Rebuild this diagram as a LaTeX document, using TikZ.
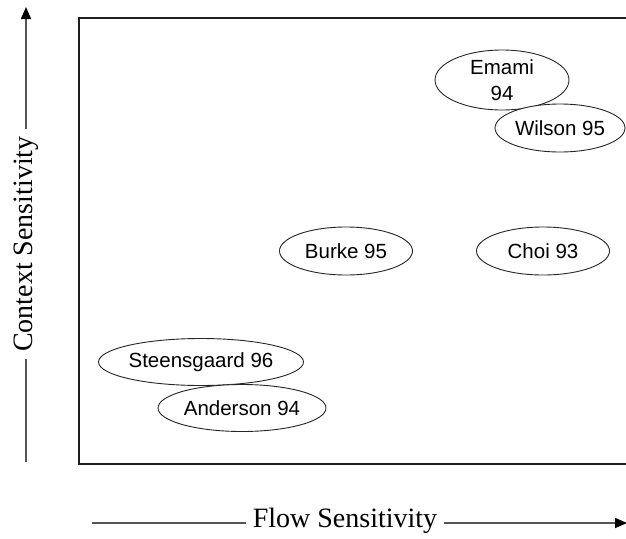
\documentclass[tikz,border=0pt]{standalone}
\usepackage{fontspec}
\setmainfont{Liberation Serif}
\setsansfont{Liberation Sans}
\usetikzlibrary{shapes.geometric,arrows.meta}

\definecolor{axisgray}{HTML}{555555}
\definecolor{framegray}{HTML}{1E1E1E}

\tikzset{
  work/.style={ellipse, draw=black!85, line width=0.9pt, fill=white,
    inner sep=0pt, align=center,
    font=\sffamily\fontsize{20.5}{26}\selectfont},
  axislabel/.style={fill=white, inner xsep=7pt, inner ysep=4pt,
    font=\rmfamily\fontsize{28}{30}\selectfont},
  axisline/.style={draw=axisgray, line width=1.5pt,
    -{Triangle[length=12pt,width=10pt,color=black]}},
}

\begin{document}
\begin{tikzpicture}[x=1pt,y=-1pt]
\useasboundingbox (0,0) rectangle (626,538);

% plot frame, open on the right where it runs off the page
\draw[framegray, line width=1.6pt]
  (640,18) -- (79,18) -- (79,464) -- (640,464);

% axes with their labels
\coordinate (ybot) at (26,462);
\coordinate (ytop) at (26,7);
\draw[axisline] (ybot) -- (ytop);
\node[axislabel, rotate=90] (ylab) at (26,244) {Context Sensitivity};

\coordinate (xleft) at (92,523);
\coordinate (xright) at (627,523);
\draw[axisline] (xleft) -- (xright);
\node[axislabel] (xlab) at (345,521) {Flow Sensitivity};

% analyses placed by their sensitivity
\node[work, minimum width=134pt, minimum height=60pt] (emami) at (502,80) {Emami\\94};
\node[work, minimum width=130pt, minimum height=48pt] (wilson) at (560,128) {Wilson 95};
\node[work, minimum width=133pt, minimum height=48pt] (burke) at (346,251) {Burke 95};
\node[work, minimum width=133pt, minimum height=48pt] (choi) at (543,251) {Choi 93};
\node[work, minimum width=205pt, minimum height=47pt] (steens) at (201,362) {Steensgaard 96};
\node[work, minimum width=168pt, minimum height=47pt] (anderson) at (242,408) {Anderson 94};
\end{tikzpicture}
\end{document}
